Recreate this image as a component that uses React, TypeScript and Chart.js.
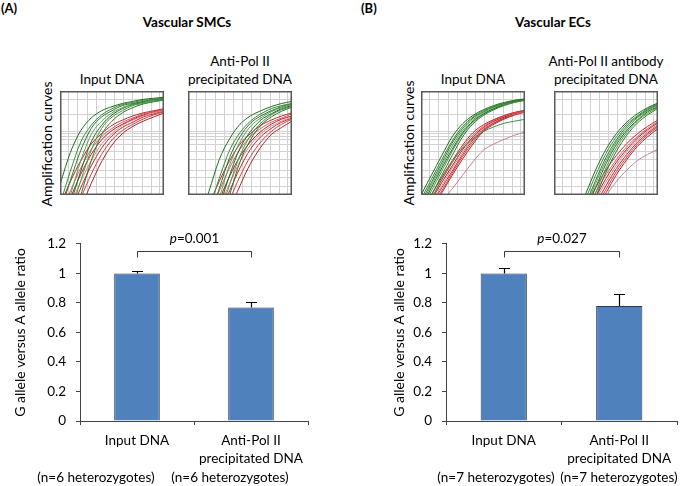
import React, { useEffect, useRef } from "react";
import { Chart, registerables } from "chart.js";

Chart.register(...registerables);

const FONT = "Lato, 'Open Sans', sans-serif";
Chart.defaults.font.family = FONT;

// ---------- amplification curves (fluorescence position in % of plot, per cycle position) ----------
const ampCycles = [0, 10, 20, 30, 40, 50, 60, 70, 80, 90, 100];
const ampGridX = [8, 17, 26, 35, 44, 52, 61, 70, 79, 88, 96];
const ampGridY = [8, 17, 24, 34, 42, 48.5, 53, 56, 59, 61.5, 77, 92];

const smcInputGreen = [
  [10, 41, 62, 74, 81, 85, 88, 90, 92, 93, 94],
  [-9, 23, 51, 67, 77, 83, 87, 89, 91, 92, 93],
  [-18, 14, 43, 64, 75, 81, 86, 88, 90, 92, 93],
  [-30, 0, 33, 58, 71, 79, 84, 87.5, 89.6, 91.3, 92.5],
  [-39, -9, 23, 51, 67, 77, 83, 87, 89, 91, 92],
  [-48, -18, 14, 43, 64, 75, 81, 86, 88, 90, 92],
  [-60, -30, 0, 33, 58, 71, 79, 84, 87.5, 89.6, 91.3],
];
const smcInputRed = [
  [-10, 13, 33, 49, 59, 67, 72, 76, 79, 81, 83],
  [-20, 4, 26, 44, 56, 64, 70, 74, 78, 80, 82],
  [-28, -3, 20, 39, 53, 62, 68, 73, 77, 80, 82],
  [-35, -10, 13, 33, 49, 59, 67, 72, 76, 79, 81],
  [-43, -18, 7, 28, 45, 57, 65, 70, 75, 78, 81],
  [-53, -28, -3, 20, 39, 53, 62, 68, 73, 77, 80],
  [-63, -38, -13, 11, 32, 48, 59, 66, 71, 75, 79],
];
const smcPolGreen = [
  [-57, -27, 3, 34, 54, 68, 76, 81, 85, 88, 90],
  [-75, -45, -15, 16, 43, 60, 71, 78, 83, 86, 88],
  [-84, -54, -24, 6, 36, 56, 69, 76, 81, 85, 88],
  [-93, -63, -33, -3, 29, 51, 66, 74, 80, 84, 87],
  [-100, -72, -42, -12, 19, 45, 61, 72, 78, 83, 86],
  [-100, -81, -51, -21, 10, 38, 57, 69, 77, 82, 85],
  [-100, -90, -60, -30, 0, 32, 53, 67, 75, 80.5, 84.5],
];
const smcPolRed = [
  [-60, -35, -10, 13, 33, 49, 59, 67, 72, 76, 79],
  [-70, -45, -20, 4, 26, 44, 56, 64, 70, 74, 78],
  [-80, -55, -30, -5, 18, 37, 51, 61, 68, 73, 76],
  [-88, -63, -38, -13, 11, 32, 48, 59, 66, 71, 75],
  [-95, -70, -45, -20, 4, 26, 44, 56, 64, 70, 74],
  [-100, -80, -55, -30, -5, 18, 37, 51, 61, 68, 73],
  [-100, -90, -65, -40, -15, 9, 30, 46, 58, 65, 71],
];
const ecInputGreen = [
  [0, 19, 38, 56, 68.5, 76.5, 82, 86, 89, 91, 92.5],
  [-4, 15, 34, 52, 66, 75, 81, 85, 88, 91, 92],
  [-7, 12, 31, 50, 64, 74, 80, 85, 88, 90, 92],
  [-9.5, 9.5, 28.5, 47, 62, 72.5, 79, 84, 87.5, 90, 91.8],
  [-12, 7, 26, 44, 60, 71, 78, 83, 87, 90, 91.5],
  [-15, 4, 23, 42, 58.5, 70, 77.6, 82.8, 86.6, 89.4, 91.3],
  [-19, 0, 19, 38, 56, 68.5, 76.5, 82, 86, 89, 91],
  [-25, -5, 15, 32, 45, 54, 61, 65.5, 69, 71, 72.8],
];
const ecInputRed = [
  [-17, 0, 17, 33, 48, 60, 67.5, 72.5, 76.5, 79.5, 81.5],
  [-20, -3, 14.5, 31, 46, 58, 66, 72, 76, 79, 81],
  [-22, -5, 12, 28, 43.5, 56, 65, 71, 75, 78.6, 81],
  [-25, -8, 9, 26, 41, 55, 64, 70, 75, 78, 80.5],
  [-27, -10, 7, 23, 39, 53, 63, 69.5, 74, 77.7, 80.3],
  [-30, -13, 4, 21, 37, 51, 62, 69, 73.5, 77, 80],
  [-32, -15, 2, 19, 34.5, 49, 61, 68, 73, 77, 79.7],
  [-45, -25, -7, 6, 19, 32, 43, 49, 53.5, 57.5, 60.5],
];
const ecPolGreen = [
  [-72, -48, -24, 0, 24, 44, 59, 70, 78, 84, 88.5],
  [-77, -53, -29, -5, 19, 40, 56, 68, 76, 83, 87.6],
  [-82, -58, -34, -10, 14, 36, 53, 66, 75, 82, 87],
  [-85, -61, -37, -13, 11, 33, 51, 64, 74, 81, 86],
  [-89, -65, -41, -17, 7, 30, 48.5, 62, 72, 80, 85],
  [-94, -70, -46, -22, 2, 26, 45.5, 60, 71, 78.6, 84.5],
  [-98, -74, -50, -26, -2, 22, 42, 57.5, 69, 77, 83.4],
];
const ecPolRed = [
  [-62, -45, -28, -10.5, 7, 24, 38, 49.5, 58.7, 66, 72],
  [-67, -50, -33, -16, 2, 19.5, 34, 46.5, 56, 64, 70.5],
  [-70, -54, -37, -19, -2, 16, 31.5, 44, 54.5, 62.7, 69.4],
  [-74, -57, -40, -23, -5, 12.6, 28.5, 42, 52.5, 61, 68],
  [-77, -60, -43, -26, -9, 9, 25.5, 39, 50.5, 59.5, 66.8],
  [-80, -63, -47, -30, -12, 5.4, 22.5, 36.5, 48.5, 58, 65.5],
  [-84, -67, -50, -33, -16, 2, 19.5, 34, 46.5, 56, 64],
  [-90, -75, -60, -45, -30, -2, 13, 24, 33, 39, 44],
];

const greenShades = ["#1f6e1f", "#3a8a3a", "#2a7a2a", "#5a9e5a", "#1f6e1f", "#4a944a", "#2a7a2a", "#3f8f4f"];
const redShades = ["#c62828", "#d06070", "#b71c1c", "#d9868f", "#cc2222", "#c84050", "#b82020", "#c98090"];

// ---------- bar charts ----------
const barCategories = [["Input DNA"], ["Anti-Pol II", "precipitated DNA"]];
const smcRatio = [1.0, 0.77];
const smcError = [0.02, 0.04];
const ecRatio = [1.0, 0.78];
const ecError = [0.04, 0.08];
const smcP = "0.001";
const ecP = "0.027";
const smcN = "(n=6 heterozygotes)";
const ecN = "(n=7 heterozygotes)";

const boxPlugin = {
  id: "boxBorder",
  afterDraw(chart: any) {
    const { ctx, chartArea } = chart;
    ctx.save();
    ctx.strokeStyle = "#5a5a5a";
    ctx.lineWidth = 1.5;
    ctx.strokeRect(chartArea.left + 0.75, chartArea.top + 0.75, chartArea.width - 1.5, chartArea.height - 1.5);
    ctx.restore();
  },
};

function AmpChart({ left, top, greens, reds }: any) {
  const ref = useRef<HTMLCanvasElement>(null);
  useEffect(() => {
    const mk = (vals: number[], color: string) => ({
      data: vals.map((y, j) => ({ x: ampCycles[j], y })),
      borderColor: color,
      borderWidth: 1,
      pointRadius: 0,
      tension: 0.4,
      cubicInterpolationMode: "monotone",
      fill: false,
    });
    const datasets = [
      ...greens.map((v: number[], i: number) => mk(v, greenShades[i % greenShades.length])),
      ...reds.map((v: number[], i: number) => mk(v, redShades[i % redShades.length])),
    ];
    const gridOpts = { color: "#d2d2d2", lineWidth: 1, drawTicks: false };
    const chart = new Chart(ref.current as HTMLCanvasElement, {
      type: "line",
      data: { datasets } as any,
      options: {
        animation: false,
        responsive: false,
        events: [],
        layout: { padding: 0 },
        plugins: { legend: { display: false }, tooltip: { enabled: false } },
        scales: {
          x: {
            type: "linear",
            min: 0,
            max: 100,
            ticks: { display: false },
            grid: gridOpts,
            border: { display: false },
            afterBuildTicks: (s: any) => {
              s.ticks = ampGridX.map((v) => ({ value: v }));
            },
          },
          y: {
            type: "linear",
            min: 0,
            max: 100,
            ticks: { display: false },
            grid: gridOpts,
            border: { display: false },
            afterBuildTicks: (s: any) => {
              s.ticks = ampGridY.map((v) => ({ value: v }));
            },
          },
        },
      } as any,
      plugins: [boxPlugin],
    });
    return () => chart.destroy();
  }, []);
  return (
    <canvas
      ref={ref}
      width={104}
      height={104}
      style={{ position: "absolute", left, top, width: 104, height: 104 }}
    />
  );
}

const annotPlugin = {
  id: "annot",
  afterDatasetsDraw(chart: any, _args: any, opts: any) {
    const { ctx, chartArea } = chart;
    const x = chart.scales.x;
    const y = chart.scales.y;
    ctx.save();
    ctx.strokeStyle = "#000";
    ctx.lineWidth = 1.2;
    opts.values.forEach((v: number, i: number) => {
      const px = Math.round(x.getPixelForValue(i)) + 0.5;
      const y0 = y.getPixelForValue(v);
      const y1 = Math.round(y.getPixelForValue(v + opts.errors[i])) + 0.5;
      ctx.beginPath();
      ctx.moveTo(px, y0);
      ctx.lineTo(px, y1);
      ctx.moveTo(px - 5.5, y1);
      ctx.lineTo(px + 5.5, y1);
      ctx.stroke();
    });
    // bracket
    const xa = Math.round(x.getPixelForValue(0)) + 0.5;
    const xb = Math.round(x.getPixelForValue(1)) + 0.5;
    const yb = chartArea.top + 7.5;
    ctx.strokeStyle = "#3a3a3a";
    ctx.lineWidth = 1;
    ctx.beginPath();
    ctx.moveTo(xa, yb + 6);
    ctx.lineTo(xa, yb);
    ctx.lineTo(xb, yb);
    ctx.lineTo(xb, yb + 6);
    ctx.stroke();
    // p label
    const fi = `italic 13.5px ${FONT}`;
    const fn = `13.5px ${FONT}`;
    ctx.font = fi;
    const w1 = ctx.measureText("p").width;
    ctx.font = fn;
    const rest = "=" + opts.p;
    const w2 = ctx.measureText(rest).width;
    const cx = (xa + xb) / 2;
    const ty = chartArea.top - 5;
    ctx.fillStyle = "#000";
    ctx.textBaseline = "middle";
    ctx.textAlign = "left";
    ctx.font = fi;
    ctx.fillText("p", cx - (w1 + w2) / 2, ty);
    ctx.font = fn;
    ctx.fillText(rest, cx - (w1 + w2) / 2 + w1, ty);
    ctx.restore();
  },
};

function BarPanel({ left, top, width, height, values, errors, p, axisWidth, titlePad, padRight }: any) {
  const ref = useRef<HTMLCanvasElement>(null);
  useEffect(() => {
    const areaTop = 18;
    const areaBottom = 196;
    const font = { family: FONT, size: 13.5, lineHeight: 1.333 };
    const chart = new Chart(ref.current as HTMLCanvasElement, {
      type: "bar",
      data: {
        labels: barCategories,
        datasets: [
          {
            data: values,
            backgroundColor: "#4f81bd",
            borderColor: "#24385a",
            borderWidth: 1,
            barPercentage: 0.4,
            categoryPercentage: 1,
          },
        ],
      },
      options: {
        animation: false,
        responsive: false,
        events: [],
        layout: { padding: { top: areaTop, right: padRight, bottom: 0, left: 0 } },
        plugins: {
          legend: { display: false },
          tooltip: { enabled: false },
          annot: { values, errors, p },
        },
        scales: {
          x: {
            type: "category",
            offset: true,
            grid: { offset: true, drawOnChartArea: false, tickLength: 4, color: "#444", lineWidth: 1 },
            border: { color: "#444", width: 1 },
            ticks: { color: "#000", font, padding: 7, maxRotation: 0, autoSkip: false },
            afterFit: (s: any) => {
              s.height = height - areaBottom;
            },
          },
          y: {
            min: 0,
            max: 1.2,
            ticks: {
              stepSize: 0.2,
              color: "#000",
              font,
              padding: 10,
              callback: (v: number) => String(Number(v.toFixed(1))),
            },
            grid: { drawOnChartArea: false, tickLength: 4, color: "#444", lineWidth: 1 },
            border: { color: "#444", width: 1 },
            title: {
              display: true,
              text: "G allele versus A allele ratio",
              color: "#000",
              font: { family: FONT, size: 14, lineHeight: 1.2 },
              padding: { top: titlePad, bottom: 0 },
            },
            afterFit: (s: any) => {
              s.width = axisWidth;
            },
          },
        },
      } as any,
      plugins: [annotPlugin],
    });
    return () => chart.destroy();
  }, []);
  return (
    <canvas
      ref={ref}
      width={width}
      height={height}
      style={{ position: "absolute", left, top, width, height }}
    />
  );
}

function Txt({ x, y, text, size = 13.5, bold = false, italic = false, rotate = false, align = "center" }: any) {
  const lh = Math.round(size * 1.25);
  const w = 320;
  const style: any = {
    position: "absolute",
    top: y - lh / 2,
    width: w,
    lineHeight: lh + "px",
    fontSize: size,
    fontWeight: bold ? 700 : 400,
    fontStyle: italic ? "italic" : "normal",
    whiteSpace: "nowrap",
    textAlign: align,
    color: "#000",
  };
  if (align === "left") style.left = x;
  else style.left = x - w / 2;
  if (rotate) style.transform = "rotate(-90deg)";
  return <div style={style}>{text}</div>;
}

export default function App() {
  return (
    <div
      style={{
        position: "absolute",
        left: 0,
        top: 0,
        width: 688,
        height: 486,
        background: "#fff",
        fontFamily: FONT,
        overflow: "hidden",
      }}
    >
      <Txt x={1} y={8} text="(A)" bold align="left" size={13} />
      <Txt x={361} y={8} text="(B)" bold align="left" size={13} />
      <Txt x={187} y={22} text="Vascular SMCs" bold size={13.5} />
      <Txt x={553} y={22} text="Vascular ECs" bold size={13.5} />

      <Txt x={112} y={79} text="Input DNA" />
      <Txt x={240} y={61} text="Anti-Pol II" />
      <Txt x={240} y={79} text="precipitated DNA" />
      <Txt x={473} y={79} text="Input DNA" />
      <Txt x={606} y={61} text="Anti-Pol II antibody" />
      <Txt x={606} y={79} text="precipitated DNA" />

      <Txt x={47} y={144} text="Amplification curves" size={14} rotate />
      <Txt x={409} y={143} text="Amplification curves" size={14} rotate />

      <AmpChart left={60} top={91} greens={smcInputGreen} reds={smcInputRed} />
      <AmpChart left={188} top={91} greens={smcPolGreen} reds={smcPolRed} />
      <AmpChart left={421} top={91} greens={ecInputGreen} reds={ecInputRed} />
      <AmpChart left={554} top={91} greens={ecPolGreen} reds={ecPolRed} />

      <BarPanel
        left={0}
        top={225}
        width={330}
        height={261}
        values={smcRatio}
        errors={smcError}
        p={smcP}
        axisWidth={80}
        titlePad={11.6}
        padRight={22}
      />
      <BarPanel
        left={360}
        top={225}
        width={328}
        height={261}
        values={ecRatio}
        errors={ecError}
        p={ecP}
        axisWidth={86}
        titlePad={30.6}
        padRight={11}
      />

      <Txt x={96} y={477} text={smcN} />
      <Txt x={230} y={477} text={smcN} />
      <Txt x={496} y={477} text={ecN} />
      <Txt x={619} y={477} text={ecN} />
    </div>
  );
}
